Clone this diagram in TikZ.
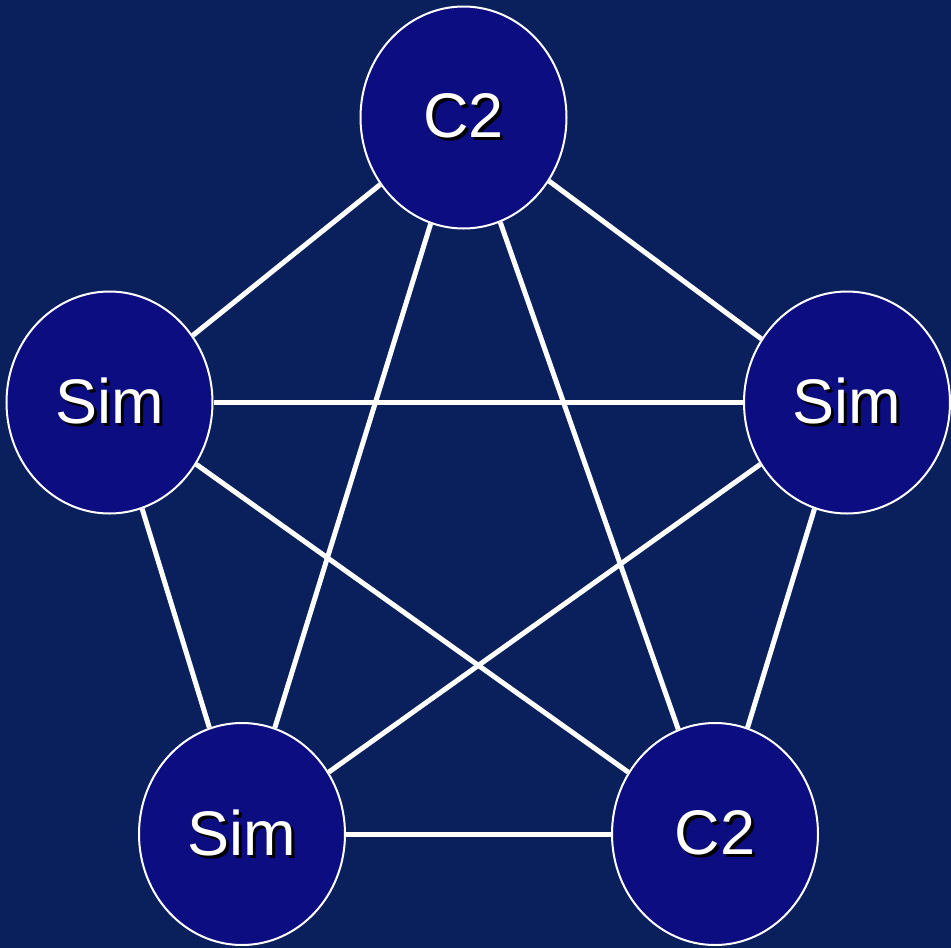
\documentclass[tikz,border=0pt]{standalone}
\usepackage{fontspec}
\setmainfont{Liberation Sans}
\usepackage{tikz}
\usepackage{xcolor}
\usetikzlibrary{shapes.geometric}

\definecolor{fundo}{RGB}{10,32,92}
\definecolor{azulno}{RGB}{13,13,130}

\newcommand{\comsombra}[1]{\makebox[0pt][l]{\hspace{3pt}\raisebox{-3pt}{\color{black}#1}}#1}

\tikzset{
  no/.style={ellipse, draw=white, line width=2pt, fill=azulno,
    minimum width=206pt, minimum height=222pt, inner sep=0pt,
    text=white, font=\fontsize{63}{70}\selectfont},
  ligacao/.style={draw=white, line width=5pt},
}

\begin{document}
\begin{tikzpicture}[x=1pt, y=-1pt]
  \fill[fundo] (0,0) rectangle (951,948);
  \useasboundingbox (0,0) rectangle (951,948);

  \node[no] (c2a) at (463.5,117.5) {\comsombra{C2}};
  \node[no] (simE) at (109.5,402.5) {\comsombra{Sim}};
  \node[no] (simD) at (847,402.5) {\comsombra{Sim}};
  \node[no] (simB) at (242,834) {\comsombra{Sim}};
  \node[no] (c2b) at (715,834) {\comsombra{C2}};

  \foreach \a/\b in {c2a/simE, c2a/simD, c2a/simB, c2a/c2b, simE/simD,
                     simE/simB, simE/c2b, simD/simB, simD/c2b, simB/c2b}
    \draw[ligacao] (\a) -- (\b);
\end{tikzpicture}
\end{document}
